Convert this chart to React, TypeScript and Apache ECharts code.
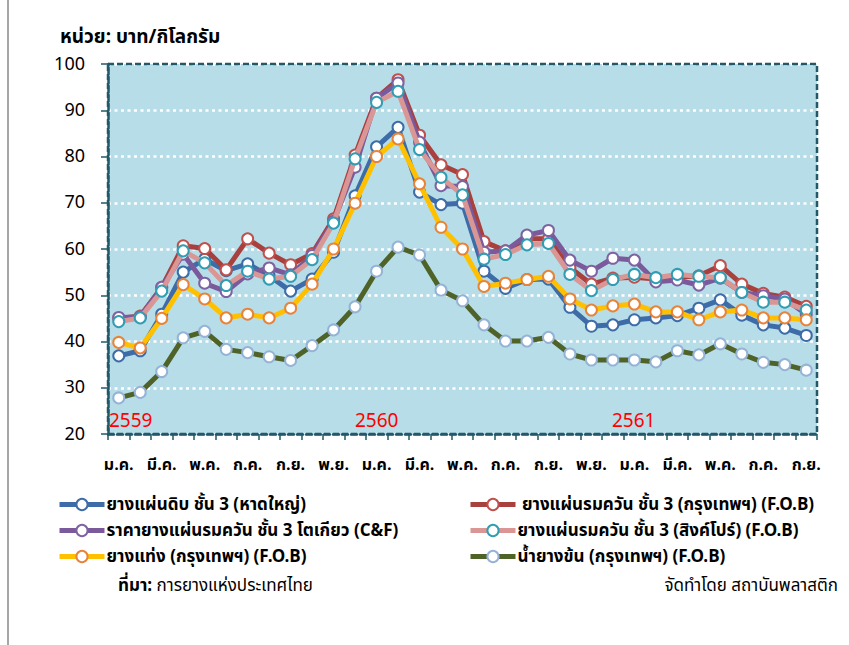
import React, { useEffect, useRef } from "react";
import * as echarts from "echarts";

const months = ["ม.ค.", "ก.พ.", "มี.ค.", "เม.ย.", "พ.ค.", "มิ.ย.", "ก.ค.", "ส.ค.", "ก.ย.", "ต.ค.", "พ.ย.", "ธ.ค."];
const categories: string[] = [];
for (let y = 0; y < 3; y++) for (let m = 0; m < 12; m++) if (y < 2 || m < 9) categories.push(months[m]);

const yearLabels = ["2559", "2560", "2561"];

const hatYai = [36.9, 38.0, 45.9, 55.0, 57.8, 55.3, 56.8, 54.2, 50.9, 53.5, 59.3, 71.5, 82.1, 86.3, 72.3, 69.6, 69.9, 55.2, 51.5, 53.4, 53.5, 47.4, 43.3, 43.6, 44.7, 45.1, 45.6, 47.2, 49.0, 45.7, 43.6, 42.9, 41.3];
const rssBangkok = [45.0, 45.5, 51.7, 60.7, 60.1, 55.5, 62.2, 59.1, 56.6, 59.0, 66.5, 80.3, 92.6, 96.6, 84.6, 78.2, 76.1, 61.6, 59.6, 62.2, 62.2, 56.0, 52.4, 53.7, 53.9, 53.5, 53.9, 54.2, 56.4, 52.4, 50.4, 49.6, 47.6];
const rssTokyo = [45.2, 45.3, 51.7, 58.9, 52.6, 50.8, 54.6, 55.9, 54.4, 58.6, 66.0, 77.7, 92.6, 95.9, 83.1, 73.7, 73.5, 59.3, 59.6, 63.0, 64.0, 57.6, 55.2, 58.0, 57.6, 52.9, 53.3, 52.2, 53.7, 50.6, 49.9, 49.2, 45.9];
const rssSingapore = [44.3, 45.1, 50.9, 59.6, 57.0, 52.1, 55.2, 53.5, 54.1, 57.7, 65.6, 79.5, 91.7, 94.1, 81.5, 75.5, 71.7, 57.8, 58.8, 60.9, 61.2, 54.5, 51.0, 53.4, 54.5, 53.8, 54.5, 54.1, 53.8, 50.6, 48.5, 48.5, 46.8];
const blockRubber = [39.8, 38.6, 45.0, 52.3, 49.2, 45.1, 45.9, 45.1, 47.2, 52.4, 60.0, 69.9, 80.0, 83.8, 74.1, 64.7, 60.0, 51.9, 52.6, 53.4, 54.1, 49.2, 46.8, 47.7, 48.1, 46.4, 46.4, 44.7, 46.4, 46.8, 45.1, 45.1, 44.7];
const latex = [27.8, 29.0, 33.5, 40.8, 42.2, 38.3, 37.6, 36.7, 35.9, 39.1, 42.5, 47.5, 55.2, 60.4, 58.7, 51.1, 48.8, 43.6, 40.1, 40.1, 40.9, 37.3, 36.0, 36.0, 36.0, 35.6, 38.0, 37.1, 39.5, 37.3, 35.5, 35.0, 33.8];

const names = [
  "ยางแผ่นดิบ ชั้น 3 (หาดใหญ่)",
  " ยางแผ่นรมควัน ชั้น 3 (กรุงเทพฯ) (F.O.B)",
  "ราคายางแผ่นรมควัน ชั้น 3 โตเกียว (C&F)",
  "ยางแผ่นรมควัน ชั้น 3 (สิงค์โปร์) (F.O.B)",
  "ยางแท่ง (กรุงเทพฯ) (F.O.B)",
  "น้ำยางข้น (กรุงเทพฯ) (F.O.B)",
];
const values = [hatYai, rssBangkok, rssTokyo, rssSingapore, blockRubber, latex];
const lineColors = ["#3D6CA8", "#A8403E", "#7A5A9B", "#D99695", "#FFC000", "#4F6228"];
const markerColors = ["#3D6CA8", "#C0504D", "#7F62A2", "#2F9DB2", "#E8843A", "#95B3D7"];

const FONT = "Tahoma, 'Noto Sans Thai', 'Noto Sans', 'DejaVu Sans', sans-serif";

export default function App() {
  const ref = useRef<HTMLDivElement>(null);
  useEffect(() => {
    document.body.style.margin = "0";
    const chart = echarts.init(ref.current!, undefined, { renderer: "svg" });
    const series = values.map((d, i) => ({
      name: names[i],
      type: "line",
      data: d,
      z: 2 + i,
      symbol: "circle",
      symbolSize: 11,
      showSymbol: true,
      lineStyle: { color: lineColors[i], width: 5 },
      itemStyle: { color: "#FFFFFF", borderColor: markerColors[i], borderWidth: 2 },
      emphasis: { disabled: true },
    }));
    const legendCommon = {
      orient: "vertical",
      itemWidth: 45,
      itemHeight: 14,
      itemGap: 9,
      lineStyle: { width: 5 },
      itemStyle: { borderWidth: 2 },
      textStyle: { fontFamily: FONT, fontSize: 17, fontWeight: "bold", color: "#000", padding: [0, 0, 0, -3] },
      selectedMode: false,
    };
    chart.setOption({
      animation: false,
      textStyle: { fontFamily: FONT },
      grid: { left: 108, right: 32, top: 64, bottom: 211, show: true, backgroundColor: "#B7DDE8", borderWidth: 0 },
      xAxis: {
        type: "category",
        data: categories,
        boundaryGap: true,
        axisLine: { show: true, lineStyle: { color: "#215968", width: 2.5, type: [6, 3] } },
        axisTick: { show: true, interval: 0, length: 6, lineStyle: { color: "#215968", width: 1.5 } },
        axisLabel: { interval: 1, margin: 23, fontFamily: FONT, fontSize: 16, fontWeight: "bold", color: "#000" },
        splitLine: { show: false },
      },
      yAxis: {
        type: "value",
        min: 20,
        max: 100,
        interval: 10,
        axisLine: { show: true, lineStyle: { color: "#215968", width: 2.5, type: [6, 3] } },
        axisTick: { show: true, length: 7, lineStyle: { color: "#215968", width: 1.5 } },
        axisLabel: { margin: 23, fontFamily: FONT, fontSize: 18, color: "#000" },
        splitLine: { show: true, lineStyle: { color: "#FFFFFF", width: 2.5, type: [3, 3.5] } },
      },
      legend: [
        { ...legendCommon, left: 52, top: 491, data: [names[0], names[2], names[4]] },
        { ...legendCommon, left: 463, top: 491, data: [names[1], names[3], names[5]] },
      ],
      series,
      graphic: [
        { type: "line", shape: { x1: 8, y1: 0, x2: 8, y2: 645 }, style: { stroke: "#A6A6A6", lineWidth: 2 } },
        {
          type: "rect",
          z: 100,
          shape: { x: 108, y: 64, width: 709, height: 370 },
          style: { fill: "none", stroke: "#215968", lineWidth: 2.5, lineDash: [6, 3] },
        },
        { type: "text", left: 60, top: 28, style: { text: "หน่วย: บาท/กิโลกรัม", font: `bold 19px ${FONT}`, fill: "#000" } },
        { type: "text", left: 109, top: 412, z: 101, style: { text: yearLabels[0], font: `19px ${FONT}`, fill: "#FF0000" } },
        { type: "text", left: 355, top: 412, z: 101, style: { text: yearLabels[1], font: `19px ${FONT}`, fill: "#FF0000" } },
        { type: "text", left: 612, top: 412, z: 101, style: { text: yearLabels[2], font: `19px ${FONT}`, fill: "#FF0000" } },
        {
          type: "text",
          left: 118,
          top: 577,
          style: {
            text: "{b|ที่มา:} การยางแห่งประเทศไทย",
            rich: { b: { font: `bold 17px ${FONT}`, fill: "#000" } },
            font: `17px ${FONT}`,
            fill: "#000",
          },
        },
        { type: "text", right: 11, top: 577, style: { text: "จัดทำโดย สถาบันพลาสติก", font: `17px ${FONT}`, fill: "#000" } },
      ],
    });
    return () => chart.dispose();
  }, []);
  return <div ref={ref} style={{ width: 849, height: 645 }} />;
}
